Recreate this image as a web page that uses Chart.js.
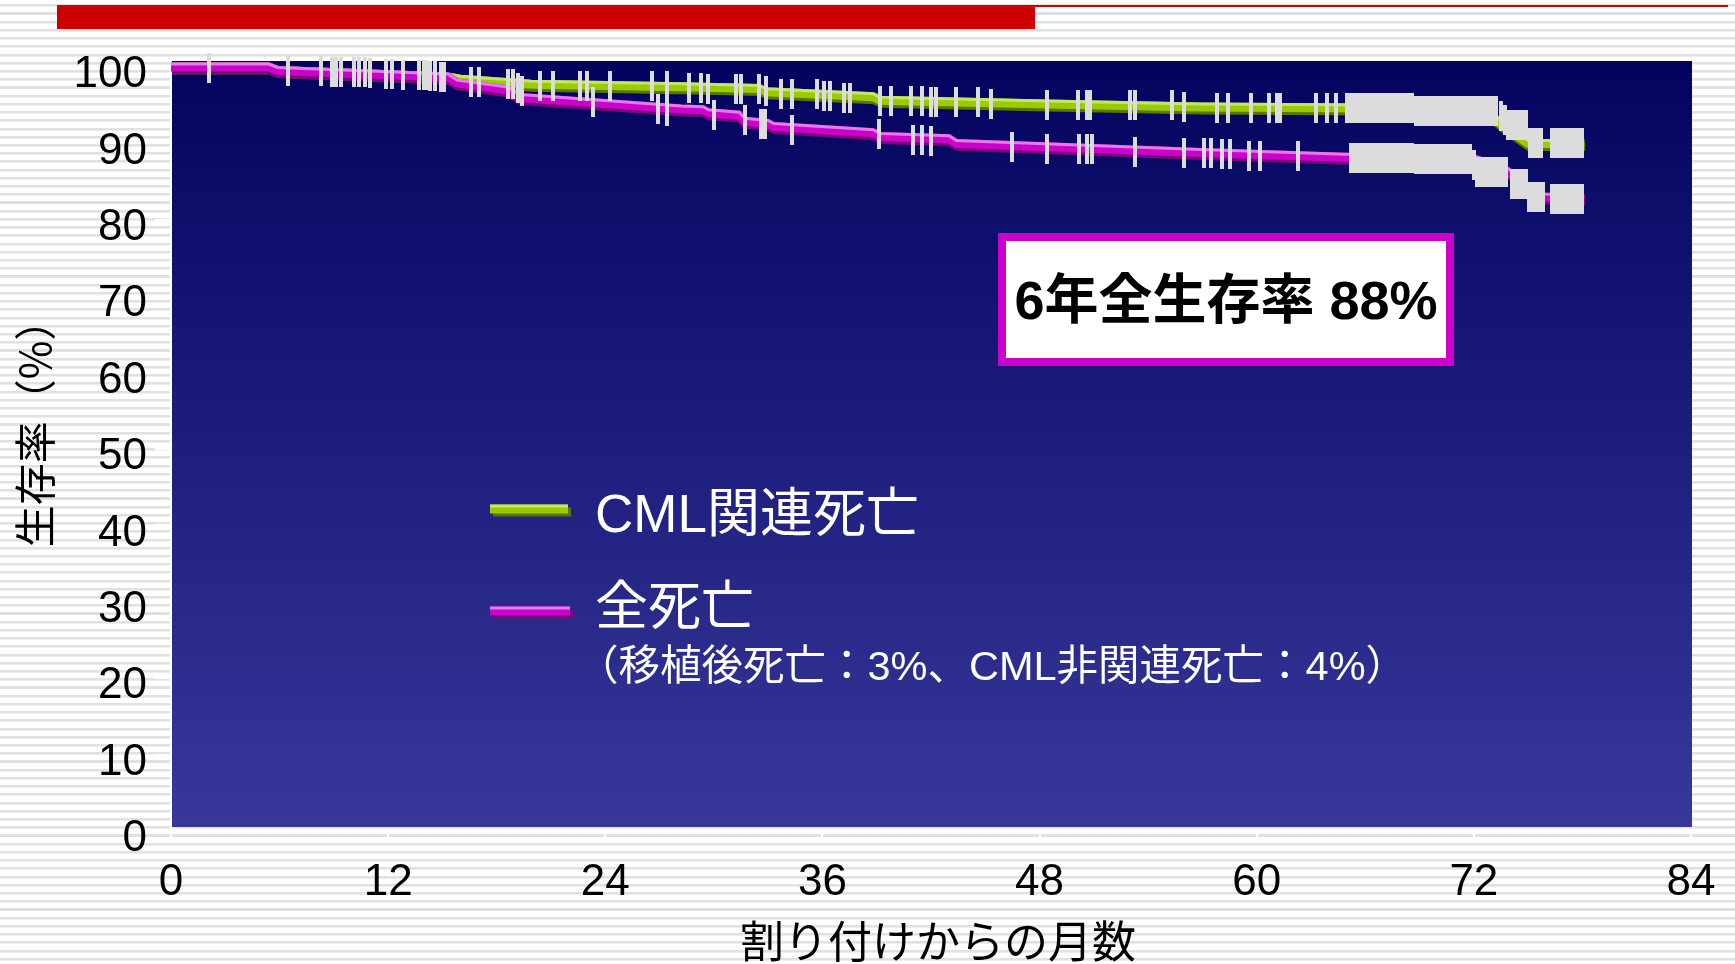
<!DOCTYPE html>
<html lang="ja">
<head>
<meta charset="utf-8">
<title>生存率</title>
<script src="https://cdn.jsdelivr.net/npm/chart.js@4.4.1/dist/chart.umd.min.js"></script>
<style>
  html, body { margin: 0; padding: 0; }
  body {
    width: 1735px; height: 964px; overflow: hidden;
    background-color: #ffffff;
    background-image: repeating-linear-gradient(to bottom,
      #ffffff 0px, #ffffff 4.2px,
      #e1e1e1 4.2px, #e1e1e1 6.3px,
      #ededed 6.3px, #ededed 7.2px,
      #ffffff 7.2px, #ffffff 8.22px);
  }
  #wrap { position: relative; width: 1735px; height: 964px; }
</style>
</head>
<body>
<div id="wrap"><canvas id="km"></canvas></div>
<script>
// Axis ticks
const xTicks = [0, 12, 24, 36, 48, 60, 72, 84];
const yTicks = [0, 10, 20, 30, 40, 50, 60, 70, 80, 90, 100];

// Kaplan-Meier curve, CML-related deaths: [month, survival %]
const cmlCurve = [
  [0, 100], [5.4, 100], [5.9, 99.55], [15.3, 98.7], [16.0, 98.4], [19.9, 97.75],
  [28.2, 97.4], [32.5, 97.2], [32.9, 96.75], [38.8, 96.1], [39.2, 95.65],
  [48.4, 95.15], [56.9, 94.75], [68.6, 94.6], [69.0, 94.2], [72.7, 94.2],
  [73.6, 92.3], [75.0, 90.0], [78.1, 90.0]
];

// Kaplan-Meier curve, all deaths: [month, survival %]
const allCurve = [
  [0, 100], [5.4, 100], [5.9, 99.55], [15.3, 98.7], [15.8, 97.9], [18.6, 97.0],
  [19.3, 96.0], [23.0, 95.4], [28.2, 94.5], [29.4, 94.4], [29.7, 94.0],
  [31.4, 93.7], [31.7, 92.9], [33.0, 92.6], [33.3, 92.2], [38.8, 91.4],
  [39.2, 90.9], [43.0, 90.6], [43.4, 90.0], [56.9, 88.8], [64.9, 88.2],
  [72.0, 88.0], [73.9, 86.3], [75.6, 83.0], [78.1, 82.8]
];

// Censored cases on the CML-related curve: [month, survival %]
const cmlCensored = [
  [16.6, 98.0], [17.0, 98.0], [18.6, 97.8], [18.9, 97.8],
  [20.4, 97.5], [21.1, 97.5], [22.6, 97.5], [23.0, 97.5], [24.25, 97.5], [26.6, 97.5], [27.4, 97.5],
  [28.6, 97.3], [29.3, 97.3], [29.7, 97.1], [31.2, 97.1], [31.5, 97.1], [32.5, 97.1], [32.9, 96.8],
  [33.7, 96.45], [34.3, 96.45], [35.7, 96.45], [36.1, 96.25], [36.4, 96.25], [37.2, 96.0], [37.5, 96.0],
  [39.2, 95.5], [39.8, 95.5], [40.9, 95.5], [41.5, 95.5], [42.0, 95.4], [42.3, 95.4], [43.4, 95.4],
  [44.6, 95.4], [45.3, 95.2],
  [48.4, 95.0], [50.1, 95.0], [50.6, 95.0], [50.8, 95.0], [53.0, 95.0], [53.3, 95.0], [55.3, 95.0], [56.0, 94.8],
  [57.8, 94.6], [58.4, 94.6], [59.7, 94.6], [60.7, 94.6], [61.1, 94.6], [61.3, 94.6], [63.3, 94.6],
  [63.9, 94.6], [64.4, 94.6],
  [65.0, 94.6], [65.2, 94.6], [65.4, 94.6], [65.6, 94.6], [65.8, 94.6], [66.0, 94.6], [66.2, 94.6],
  [66.4, 94.6], [66.6, 94.6], [66.8, 94.6], [67.0, 94.6], [67.2, 94.6], [67.4, 94.6], [67.6, 94.6],
  [67.8, 94.6], [68.0, 94.6], [68.2, 94.6], [68.4, 94.6], [68.6, 94.6],
  [68.8, 94.2], [69.0, 94.2], [69.2, 94.2], [69.4, 94.2], [69.6, 94.2], [69.8, 94.2], [70.0, 94.2],
  [70.2, 94.2], [70.4, 94.2], [70.6, 94.2], [70.8, 94.2], [71.0, 94.2], [71.2, 94.2], [71.4, 94.2],
  [71.6, 94.2], [71.8, 94.2], [72.0, 94.2], [72.2, 94.2], [72.4, 94.2], [72.6, 94.2], [72.8, 94.2],
  [73.0, 94.2], [73.2, 94.2],
  [73.5, 93.6], [73.7, 93.0], [73.9, 92.4], [74.1, 92.4], [74.3, 92.4], [74.5, 92.4], [74.7, 92.4],
  [74.9, 92.4],
  [75.1, 90.0], [75.3, 90.0], [75.5, 90.0], [75.7, 90.0],
  [76.3, 90.0], [76.5, 90.0], [76.7, 90.0], [76.9, 90.0], [77.1, 90.0], [77.3, 90.0], [77.5, 90.0],
  [77.7, 90.0], [77.9, 90.0], [78.0, 90.0]
];

// Censored cases on the all-deaths curve: [month, survival %]
const allCensored = [
  [2.1, 99.9], [6.45, 99.5], [8.3, 99.5], [8.9, 99.4], [9.1, 99.4], [9.4, 99.4],
  [10.1, 99.35], [10.4, 99.35], [10.7, 99.3], [11.0, 99.2], [11.9, 99.1], [12.2, 99.05], [12.8, 99.0],
  [13.7, 98.95], [14.0, 98.9], [14.1, 98.9], [14.3, 98.85], [14.6, 98.8], [14.9, 98.75], [15.1, 98.7],
  [19.2, 97.2], [19.4, 96.9], [23.3, 95.4], [26.9, 94.5], [27.4, 94.2],
  [30.0, 93.7], [31.7, 93.0], [32.6, 92.6], [32.8, 92.6], [34.3, 91.8], [39.1, 91.2],
  [41.0, 90.5], [41.5, 90.5], [42.0, 90.3],
  [46.5, 89.5], [48.4, 89.3], [50.2, 89.3], [50.6, 89.3], [50.9, 89.3], [53.3, 88.9], [56.0, 88.7],
  [57.1, 88.7], [57.5, 88.7], [58.1, 88.6], [58.5, 88.6], [59.6, 88.4], [60.2, 88.4], [62.3, 88.4],
  [65.2, 88.1], [65.4, 88.1], [65.6, 88.1], [65.8, 88.1], [66.0, 88.1], [66.2, 88.1], [66.4, 88.1],
  [66.6, 88.1], [66.8, 88.1], [67.0, 88.1], [67.2, 88.1], [67.4, 88.1], [67.6, 88.1], [67.8, 88.1],
  [68.0, 88.1], [68.2, 88.1], [68.4, 88.1], [68.6, 88.1],
  [68.8, 88.0], [69.0, 88.0], [69.2, 88.0], [69.4, 88.0], [69.6, 88.0], [69.8, 88.0], [70.0, 88.0],
  [70.2, 88.0], [70.4, 87.9], [70.6, 87.9], [70.8, 87.9], [71.0, 87.9], [71.2, 87.9], [71.4, 87.9],
  [71.6, 87.9], [71.8, 87.9],
  [72.0, 87.2], [72.2, 86.3], [72.4, 86.3], [72.6, 86.3], [72.8, 86.3], [73.0, 86.3], [73.2, 86.3],
  [73.4, 86.3], [73.6, 86.3], [73.8, 86.3],
  [74.1, 84.7], [74.3, 84.7], [74.5, 84.7], [74.7, 84.7], [74.9, 84.7],
  [75.05, 83.0], [75.2, 83.0], [75.4, 83.0], [75.6, 83.0], [75.8, 83.0],
  [76.3, 82.7], [76.5, 82.7], [76.7, 82.7], [76.9, 82.7], [77.1, 82.7], [77.3, 82.7], [77.5, 82.7],
  [77.7, 82.7], [77.9, 82.7], [78.0, 82.7]
];

// Text
const seriesLabels = ['CML関連死亡', '全死亡'];
const allDeathNote = '（移植後死亡：3%、CML非関連死亡：4%）';
const xTitle = '割り付けからの月数';
const yTitle = '生存率（%）';
const rateMonth = 72;

// Styling
const CML_COL = { main: '#99cc00', light: '#c6e566', dark: '#5a7500' };
const ALL_COL = { main: '#cc00cc', light: '#e67ae6', dark: '#770a77' };
const LATIN = '"Liberation Sans", "Noto Sans CJK JP", Arial, sans-serif';
const CJK = '"Noto Sans CJK JP", "Liberation Sans", sans-serif';

const toPts = arr => arr.map(p => ({ x: p[0], y: p[1] }));
const sixYearRate = allCurve.find(p => p[0] === rateMonth)[1];

// censor tick glyph
const censorMark = (() => {
  const c = document.createElement('canvas');
  c.width = 4; c.height = 30;
  const g = c.getContext('2d');
  g.fillStyle = '#dcdcdc';
  g.fillRect(0, 0, 4, 30);
  return c;
})();

// dark under-edge and light top edge of the thick curves
const shadePlugin = {
  id: 'shade',
  beforeDatasetDraw(chart, args) {
    const ds = chart.data.datasets[args.index];
    const ctx = chart.ctx;
    if (ds.edgeShadow) {
      ctx.save();
      ctx.shadowColor = ds.edgeShadow;
      ctx.shadowOffsetX = 1;
      ctx.shadowOffsetY = 3;
      ctx.shadowBlur = 0;
    } else if (ds.lift) {
      ctx.save();
      ctx.translate(0, -ds.lift);
    }
  },
  afterDatasetDraw(chart, args) {
    const ds = chart.data.datasets[args.index];
    if (ds.edgeShadow || ds.lift) chart.ctx.restore();
  }
};

// page furniture and plot backdrop
const backdropPlugin = {
  id: 'backdrop',
  beforeDraw(chart) {
    const ctx = chart.ctx;
    const a = chart.chartArea;
    ctx.save();
    ctx.fillStyle = '#cc0000';
    ctx.fillRect(57, 5, 978, 24);
    ctx.fillRect(1035, 5, 693, 2);
    const top = a.top - 6, bottom = a.bottom - 4;
    const g = ctx.createLinearGradient(0, top, 0, bottom);
    g.addColorStop(0, '#03035f');
    g.addColorStop(1, '#38389b');
    ctx.fillStyle = g;
    ctx.fillRect(a.left + 1, top, a.right - a.left, bottom - top);
    ctx.restore();
  }
};

// axis titles, legend and the six-year annotation
const overlayPlugin = {
  id: 'overlay',
  afterDraw(chart) {
    const ctx = chart.ctx;
    ctx.save();

    ctx.fillStyle = '#000000';
    ctx.textAlign = 'center';
    ctx.textBaseline = 'middle';
    ctx.font = '44px ' + CJK;
    ctx.fillText(xTitle, 938, 941);
    ctx.save();
    ctx.translate(35, 423);
    ctx.rotate(-Math.PI / 2);
    ctx.font = '42px ' + CJK;
    ctx.fillText(yTitle, 0, 0);
    ctx.restore();

    const swatch = (x, y, w, col) => {
      ctx.fillStyle = col.dark;  ctx.fillRect(x + 3, y - 4.5 + 3, w, 9);
      ctx.fillStyle = col.main;  ctx.fillRect(x, y - 4.5, w, 9);
      ctx.fillStyle = col.light; ctx.fillRect(x, y - 4.5, w, 3);
    };
    swatch(490, 509, 78, CML_COL);
    swatch(490, 611, 80, ALL_COL);
    ctx.fillStyle = '#ffffff';
    ctx.textAlign = 'left';
    ctx.font = '53px ' + LATIN;
    ctx.fillText(seriesLabels[0], 595, 517);
    ctx.fillText(seriesLabels[1], 595, 610);
    ctx.font = '41.5px ' + LATIN;
    ctx.fillText(allDeathNote, 577, 669);

    // annotation box
    ctx.fillStyle = '#cc00cc';
    ctx.fillRect(998, 233, 456, 133);
    ctx.fillStyle = '#ffffff';
    ctx.fillRect(1006, 241, 440, 117);
    ctx.fillStyle = '#000000';
    ctx.textAlign = 'center';
    ctx.font = 'bold 54px ' + LATIN;
    ctx.fillText('6年全生存率 ' + sixYearRate + '%', 1226, 304);
    ctx.restore();
  }
};

function build() {
  const ctx = document.getElementById('km');
  new Chart(ctx, {
    type: 'line',
    data: {
      datasets: [
        { label: 'censored-all', data: toPts(allCensored), showLine: false,
          pointStyle: censorMark, pointRadius: 3, order: 0, clip: false },
        { label: 'censored-cml', data: toPts(cmlCensored), showLine: false,
          pointStyle: censorMark, pointRadius: 3, order: 1, clip: false },
        { label: seriesLabels[1] + ' hi', data: toPts(allCurve), borderColor: ALL_COL.light,
          borderWidth: 3, pointRadius: 0, tension: 0, lift: 3, order: 2, clip: false },
        { label: seriesLabels[1], data: toPts(allCurve), borderColor: ALL_COL.main,
          borderWidth: 9, pointRadius: 0, tension: 0, edgeShadow: ALL_COL.dark, order: 3, clip: false },
        { label: seriesLabels[0] + ' hi', data: toPts(cmlCurve), borderColor: CML_COL.light,
          borderWidth: 3, pointRadius: 0, tension: 0, lift: 3, order: 4, clip: false },
        { label: seriesLabels[0], data: toPts(cmlCurve), borderColor: CML_COL.main,
          borderWidth: 9, pointRadius: 0, tension: 0, edgeShadow: CML_COL.dark, order: 5, clip: false }
      ]
    },
    options: {
      responsive: true,
      maintainAspectRatio: false,
      animation: false,
      events: [],
      layout: { padding: { left: 0, top: 67, right: 44, bottom: 0 } },
      plugins: { legend: { display: false }, tooltip: { enabled: false } },
      scales: {
        x: {
          type: 'linear', min: 0, max: 84,
          afterBuildTicks: s => { s.ticks = xTicks.map(v => ({ value: v })); },
          afterFit: s => { s.height = 133; },
          border: { display: true, color: '#ffffff', width: 2 },
          grid: { display: true, drawOnChartArea: false, drawTicks: true, tickLength: 10,
                  color: '#ffffff', lineWidth: 2 },
          ticks: { color: '#000000', padding: 15, maxRotation: 0,
                   font: { family: LATIN, size: 44 } },
          title: { display: false, text: xTitle }
        },
        y: {
          type: 'linear', min: 0, max: 100,
          afterBuildTicks: s => { s.ticks = yTicks.map(v => ({ value: v })); },
          afterFit: s => { s.width = 171; },
          border: { display: true, color: '#ffffff', width: 2 },
          grid: { display: true, drawOnChartArea: false, drawTicks: true, tickLength: 16,
                  color: '#ffffff', lineWidth: 2 },
          ticks: { color: '#000000', padding: 8, labelOffset: 8,
                   font: { family: LATIN, size: 44 } },
          title: { display: false, text: yTitle }
        }
      }
    },
    plugins: [backdropPlugin, shadePlugin, overlayPlugin]
  });
}

Promise.all([
  document.fonts.load('44px "Liberation Sans"'),
  document.fonts.load('bold 52px "Liberation Sans"'),
  document.fonts.load('44px "Noto Sans CJK JP"', '割生'),
  document.fonts.load('bold 52px "Noto Sans CJK JP"', '年全')
]).catch(() => {}).then(build);
</script>
</body>
</html>
